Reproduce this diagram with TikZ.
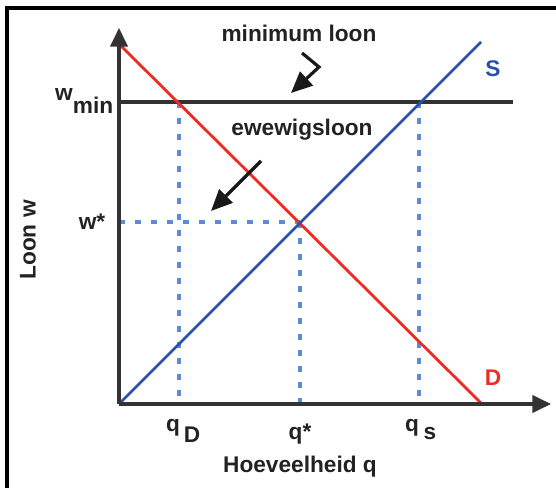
\documentclass[tikz,border=0pt]{standalone}
\usepackage{fontspec}
\setmainfont{Liberation Sans}
\usetikzlibrary{arrows.meta}
\definecolor{axisgray}{HTML}{333333}
\definecolor{dred}{HTML}{EE2B24}
\definecolor{sblue}{HTML}{2A50A8}
\definecolor{dashblue}{HTML}{5B8AD8}
\definecolor{txt}{HTML}{222222}
\tikzset{
  lbl/.style={font=\bfseries\fontsize{17}{20}\selectfont, text=txt, inner sep=0pt},
  axisline/.style={draw=axisgray, line width=2.3pt, -{Triangle[length=14pt,width=13pt]}},
  curveD/.style={draw=dred, line width=2.1pt},
  curveS/.style={draw=sblue, line width=2.1pt},
  guide/.style={draw=dashblue, line width=2.4pt, dash pattern=on 4.5pt off 7.5pt},
  floorline/.style={draw=axisgray, line width=2.3pt},
  pointer/.style={draw=black!90, line width=2.4pt, -{Triangle[length=16pt,width=14pt]}},
  frameline/.style={draw=black, line width=2.4pt}
}
\begin{document}
\begin{tikzpicture}[x=0.75pt,y=-0.75pt]
\useasboundingbox (0,0) rectangle (556,488);
% frame (top and left edges)
\coordinate (f1) at (556,8);
\coordinate (f2) at (7,8);
\coordinate (f3) at (7,488);
\draw[frameline] (f1) -- (f2) -- (f3);
% key points
\coordinate (O) at (119,404);
\coordinate (Ytop) at (119,28);
\coordinate (Xend) at (551,404);
\coordinate (Dtop) at (119,44);
\coordinate (Dbot) at (482,404);
\coordinate (Stop) at (481,42);
\coordinate (Wr) at (513,102);
\coordinate (Wl) at (119,102);
\coordinate (A) at (179,102);
\coordinate (B) at (419,102);
\coordinate (E) at (300,222);
\coordinate (Wstar) at (119,222);
\coordinate (Aq) at (179,404);
\coordinate (Eq) at (300,404);
\coordinate (Bq) at (419,404);
% dashed guides
\draw[guide] (Wstar) -- (E);
\draw[guide] (A) -- (Aq);
\draw[guide] (E) -- (Eq);
\draw[guide] (B) -- (Bq);
% minimum wage line
\draw[floorline] (Wl) -- (Wr);
% curves
\draw[curveD] (Dtop) -- (Dbot);
\draw[curveS] (O) -- (Stop);
% axes
\draw[axisline] (O) -- (Ytop);
\draw[axisline] (O) -- (Xend);
% pointers
\coordinate (m1) at (302,53);
\coordinate (m2) at (319,67);
\coordinate (m3) at (291,93);
\draw[pointer] (m1) -- (m2) -- (m3);
\coordinate (e1) at (261,161);
\coordinate (e2) at (211,211);
\draw[pointer] (e1) -- (e2);
% labels
\node[lbl] (tmin) at (299,33) {minimum loon};
\node[lbl] (tew) at (302,130) {ewewigsloon};
\node[lbl, text=sblue] (tS) at (493,69) {S};
\node[lbl, text=dred] (tD) at (493,378) {D};
\node[lbl, anchor=base] (tw) at (64,101) {w};
\node[lbl, anchor=base] (tmn) at (93,114) {min};
\node[lbl] (twstar) at (92,222) {w*};
\node[lbl, anchor=base] (tq1) at (173,431) {q};
\node[lbl, anchor=base] (tq2) at (192,442) {D};
\node[lbl, anchor=base] (tqs) at (300,439) {q*};
\node[lbl, anchor=base] (tq3) at (412,431) {q};
\node[lbl, anchor=base] (tq4) at (430,439) {s};
\node[lbl] (tx) at (300,467) {Hoeveelheid q};
\node[lbl, rotate=90] (ty) at (28,240) {Loon w};
\end{tikzpicture}
\end{document}
